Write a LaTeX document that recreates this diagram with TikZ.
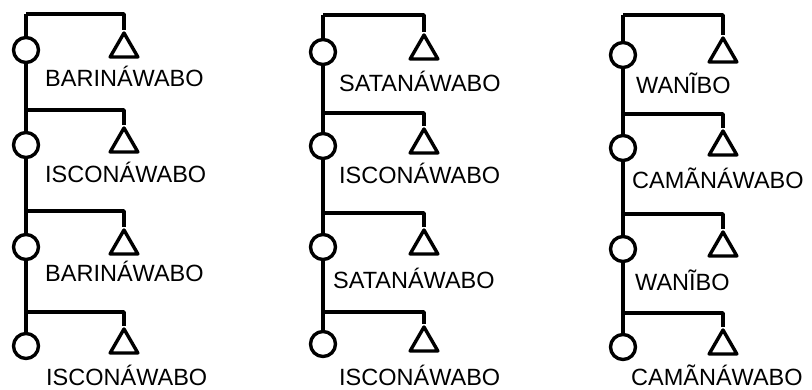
\documentclass[tikz,border=0pt]{standalone}
\usepackage{fontspec}
\setmainfont{Liberation Sans}
\usetikzlibrary{shapes.geometric}
\tikzset{
  kinline/.style={line width=3.4pt, line join=round},
  female/.style={circle, draw, line width=3.4pt, fill=white, minimum size=25pt, inner sep=0pt},
  male/.style={regular polygon, regular polygon sides=3, draw, line width=3.4pt, line join=round, fill=white, minimum size=32pt, inner sep=0pt},
  kinlabel/.style={anchor=base west, inner sep=0pt, font=\fontsize{23.5}{23.5}\selectfont}
}
% #1 id, #2 xline, #3 xright, #4 h, #5 cy, #6 lx, #7 label cap-centre y, #8 text
\newcommand{\kinrow}[8]{%
  \coordinate (t#1) at (#2,#4);
  \coordinate (r#1) at (#3,#4);
  \node[female] (f#1) at (#2,#5) {};
  \node[male] (m#1) at (#3,#5-1) {};
  \node[kinlabel] (l#1) at (#6,#7+8.5) {#8};
  \draw[kinline] (t#1) -- (r#1) -- (m#1.corner 1);
}
\begin{document}
\begin{tikzpicture}[x=1pt,y=-1pt]
\useasboundingbox (0,0) rectangle (812,390);
% column 1
\kinrow{a1}{26}{124}{14}{50}{45}{78}{BARINÁWABO}
\kinrow{a2}{26}{124}{110}{145}{45}{174}{ISCONÁWABO}
\kinrow{a3}{26}{124}{211}{247}{45}{273}{BARINÁWABO}
\kinrow{a4}{26}{124}{312}{346}{46}{377}{ISCONÁWABO}
\draw[kinline] (ta1) -- (fa1.north);
\draw[kinline] (fa1.south) -- (fa2.north);
\draw[kinline] (fa2.south) -- (fa3.north);
\draw[kinline] (fa3.south) -- (fa4.north);
% column 2
\kinrow{b1}{323}{424}{15}{52}{339}{83}{SATANÁWABO}
\kinrow{b2}{323}{424}{113}{146}{339}{175}{ISCONÁWABO}
\kinrow{b3}{323}{424}{213}{247}{333}{280}{SATANÁWABO}
\kinrow{b4}{323}{424}{312}{344}{339}{377}{ISCONÁWABO}
\draw[kinline] (tb1) -- (fb1.north);
\draw[kinline] (fb1.south) -- (fb2.north);
\draw[kinline] (fb2.south) -- (fb3.north);
\draw[kinline] (fb3.south) -- (fb4.north);
% column 3
\kinrow{c1}{623}{723}{15}{55}{636}{85}{WANĨBO}
\kinrow{c2}{623}{723}{114}{148}{632}{180}{CAMÃNÁWABO}
\kinrow{c3}{623}{723}{214}{249}{635}{282}{WANĨBO}
\kinrow{c4}{623}{723}{313}{347}{631}{377}{CAMÃNÁWABO}
\draw[kinline] (tc1) -- (fc1.north);
\draw[kinline] (fc1.south) -- (fc2.north);
\draw[kinline] (fc2.south) -- (fc3.north);
\draw[kinline] (fc3.south) -- (fc4.north);
\end{tikzpicture}
\end{document}
